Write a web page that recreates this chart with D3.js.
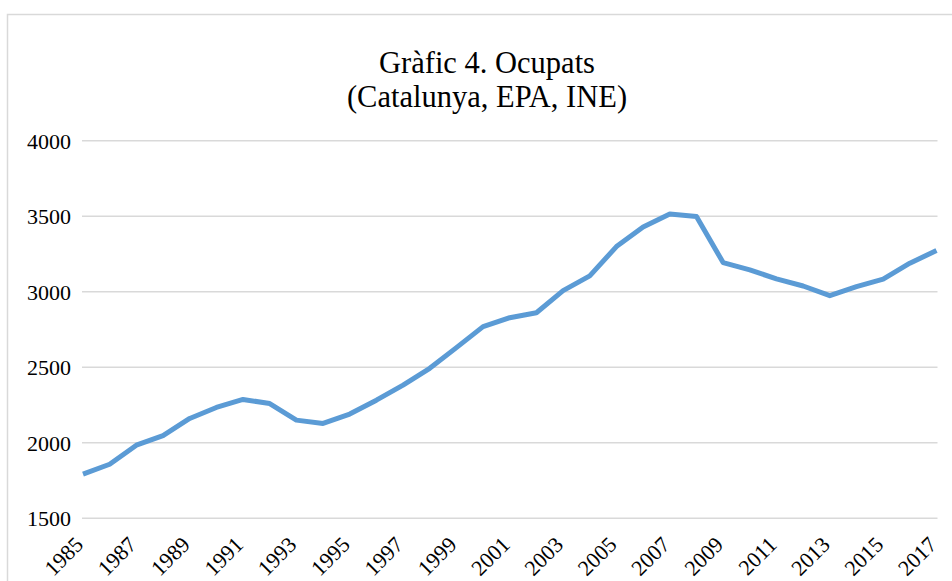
<!DOCTYPE html>
<html><head><meta charset="utf-8">
<script src="https://cdn.jsdelivr.net/npm/d3@7"></script>
<style>
html,body{margin:0;padding:0;background:#fff;}
svg{display:block;}
</style></head>
<body>
<svg id="chart" width="952" height="581"></svg>
<script>
const years = [1985,1986,1987,1988,1989,1990,1991,1992,1993,1994,1995,1996,1997,1998,1999,2000,2001,2002,2003,2004,2005,2006,2007,2008,2009,2010,2011,2012,2013,2014,2015,2016,2017];
const ocupats = [1792,1858,1984,2048,2161,2234,2287,2260,2150,2128,2190,2282,2382,2493,2630,2769,2828,2861,3007,3105,3299,3428,3514,3498,3193,3145,3085,3038,2974,3034,3083,3189,3273];
const yTicks = [1500,2000,2500,3000,3500,4000];
const xTickLabels = [1985,1987,1989,1991,1993,1995,1997,1999,2001,2003,2005,2007,2009,2011,2013,2015,2017];
const titleLines = ["Gràfic 4. Ocupats","(Catalunya, EPA, INE)"];

const svg = d3.select("#chart");
const font = "'Liberation Serif','Times New Roman',serif";

// chart border
svg.append("rect").attr("x",7.5).attr("y",14.5).attr("width",960).attr("height",600)
  .attr("fill","none").attr("stroke","#d9d9d9").attr("stroke-width",1.5);

const x = d3.scalePoint().domain(years).range([83, 936.5]);
const y = d3.scaleLinear().domain([1500,4000]).range([518.3, 140.7]);

// gridlines
svg.append("g").selectAll("line").data(yTicks).join("line")
  .attr("x1",82).attr("x2",937.5)
  .attr("y1",d=>y(d)).attr("y2",d=>y(d))
  .attr("stroke","#d9d9d9").attr("stroke-width",1.5);

// y axis labels
const yAxis = d3.axisLeft(y).tickValues(yTicks).tickSize(0).tickPadding(0).tickFormat(d3.format("d"));
const gy = svg.append("g").attr("transform","translate(71,0)").call(yAxis);
gy.select(".domain").remove();
gy.selectAll("text").attr("font-family",font).attr("font-size","22px").attr("fill","#000").attr("dy","0.34em");

// x axis labels
const xAxis = d3.axisBottom(x).tickValues(xTickLabels).tickSize(0).tickPadding(0);
const gx = svg.append("g").attr("transform","translate(0,528)").call(xAxis);
gx.select(".domain").remove();
gx.selectAll("text").attr("font-family",font).attr("font-size","22px").attr("fill","#000")
  .attr("text-anchor","end").attr("y",0).attr("dy",0)
  .attr("transform","translate(1,18) rotate(-45)");

// line
const line = d3.line().x((d,i)=>x(years[i])).y(d=>y(d));
svg.append("path").datum(ocupats).attr("d",line)
  .attr("fill","none").attr("stroke","#5B9BD5").attr("stroke-width",5)
  .attr("stroke-linejoin","round").attr("stroke-linecap","butt");

// title
svg.append("g").selectAll("text").data(titleLines).join("text")
  .attr("x",487).attr("y",(d,i)=>73+i*34)
  .attr("text-anchor","middle").attr("font-family",font).attr("font-size","30.5px").attr("fill","#000")
  .text(d=>d);
</script>
</body></html>
